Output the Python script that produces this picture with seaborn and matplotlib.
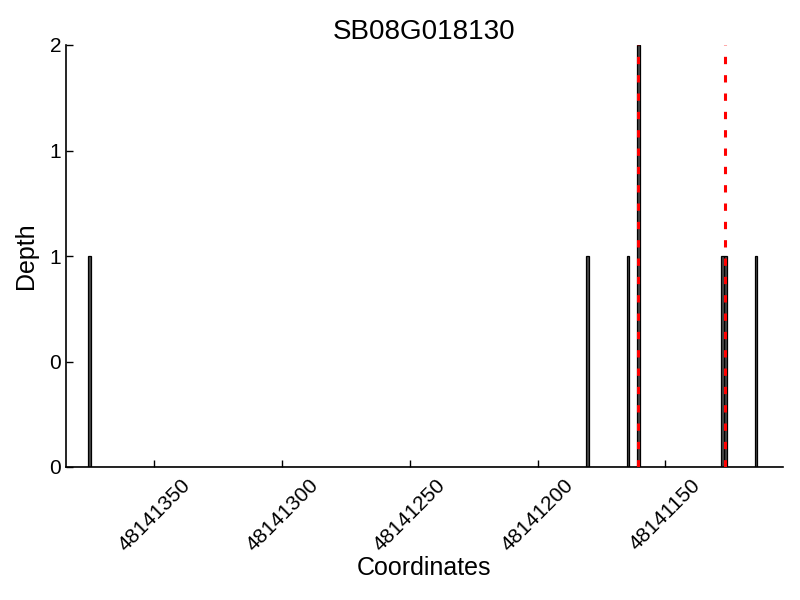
import matplotlib
matplotlib.use("Agg")
import matplotlib.pyplot as plt
import matplotlib.ticker as mticker
import seaborn as sns
import pandas as pd
import numpy as np

# data
positions = [48141375, 48141180, 48141164, 48141160, 48141127, 48141126, 48141114]
depths = [1, 1, 1, 2, 1, 1, 1]
marker_positions = [48141160.5, 48141126.5]
title = "SB08G018130"
x_ticks = [48141350, 48141300, 48141250, 48141200, 48141150]
y_ticks = [0, 0.5, 1, 1.5, 2]

sns.set_style("ticks")
plt.rcParams['font.family'] = ['Liberation Sans', 'DejaVu Sans']
plt.rcParams['text.color'] = 'black'
plt.rcParams['axes.labelcolor'] = 'black'
plt.rcParams['xtick.color'] = 'black'
plt.rcParams['ytick.color'] = 'black'

df = pd.DataFrame({"pos": positions, "depth": depths})

fig = plt.figure(figsize=(8, 6), dpi=100)
ax = fig.add_axes([66/800, 1-467/600, (783-66)/800, (467-45)/600])

sns.histplot(data=df, x="pos", weights="depth", binwidth=1,
             binrange=(48141100, 48141390), color="#4a4a4a", alpha=1,
             edgecolor="black", linewidth=0.9, ax=ax)

for m in marker_positions:
    ax.axvline(m, color="red", linestyle=(0, (2.4, 3.6)), linewidth=2.2, zorder=5)

ax.set_xlim(48141384.6, 48141103.9)
ax.set_ylim(0, 2)
ax.set_xticks(x_ticks)
ax.set_yticks(y_ticks)
ax.xaxis.set_major_formatter(mticker.FormatStrFormatter('%d'))
ax.yaxis.set_major_formatter(mticker.FormatStrFormatter('%d'))
ax.tick_params(direction='in', length=5, width=1, labelsize=15, colors='black')
ax.tick_params(axis='x', pad=6)
plt.setp(ax.get_xticklabels(), rotation=45, ha='center')

for s in ['top', 'right']:
    ax.spines[s].set_visible(False)
for s in ['left', 'bottom']:
    ax.spines[s].set_linewidth(1.2)
    ax.spines[s].set_color('black')

ax.set_title(title, fontsize=20, pad=4, color='black')
ax.set_xlabel("Coordinates", fontsize=18, labelpad=1)
ax.set_ylabel("Depth", fontsize=18, labelpad=8)

fig.savefig("out.png", dpi=100)
